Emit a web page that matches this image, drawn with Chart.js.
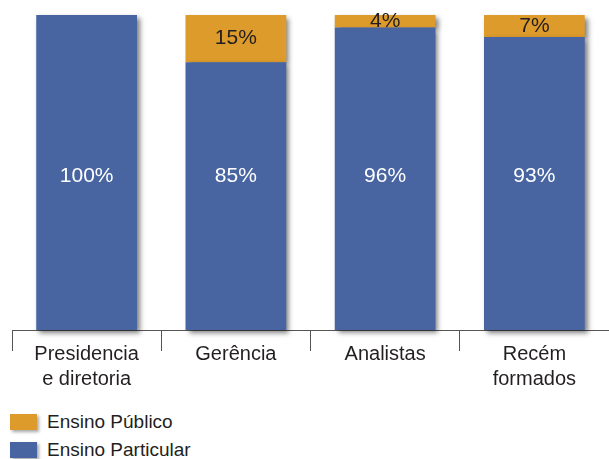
<!DOCTYPE html>
<html lang="pt">
<head>
<meta charset="utf-8">
<script src="https://cdn.jsdelivr.net/npm/chart.js@4/dist/chart.umd.min.js"></script>
<style>
    body { margin: 0; background: #fff; font-family: "Liberation Sans", Arial, sans-serif; }
    #wrap { position: relative; width: 609px; height: 459px; overflow: hidden; }
    #legend { position: absolute; left: 10px; top: 408px; }
    .item { display: flex; align-items: center; height: 28px; font-size: 19px; color: #231f20; }
    .box { width: 27px; height: 16px; margin-right: 10px; box-shadow: 2px 2px 3px rgba(0,0,0,0.35); }
</style>
</head>
<body>
<div id="wrap">
    <canvas id="escolaChart" width="609" height="400"></canvas>
    <div id="legend"></div>
</div>
<script>
// Dados
const cargos = [['Presidencia', 'e diretoria'], 'Gerência', 'Analistas', ['Recém', 'formados']];
const ensinoParticular = [100, 85, 96, 93];
const ensinoPublico = [0, 15, 4, 7];

const azul = '#4865a1';
const laranja = '#dc9b2b';
const texto = '#231f20';
const fonte = '"Liberation Sans", Arial, sans-serif';

// sombra por baixo das barras
const sombraBarras = {
    id: 'sombraBarras',
    beforeDatasetsDraw(chart) {
        const ctx = chart.ctx;
        ctx.save();
        ctx.shadowColor = 'rgba(0,0,0,0.5)';
        ctx.shadowOffsetX = 3;
        ctx.shadowOffsetY = 3;
        ctx.shadowBlur = 5;
    },
    afterDatasetsDraw(chart) {
        chart.ctx.restore();
    }
};

// percentuais escritos dentro das barras
const rotulos = {
    id: 'rotulos',
    afterDatasetsDraw(chart) {
        const ctx = chart.ctx;
        const y = chart.scales.y;
        ctx.save();
        ctx.font = '21px ' + fonte;
        ctx.textAlign = 'center';
        ctx.textBaseline = 'middle';
        chart.data.datasets.forEach((ds, i) => {
            const meta = chart.getDatasetMeta(i);
            meta.data.forEach((bar, j) => {
                const v = ds.data[j];
                if (!v) return;
                let py;
                if (i === 0) {
                    const total = ensinoParticular[j] + ensinoPublico[j];
                    py = y.getPixelForValue(total / 2) + 4;
                    ctx.fillStyle = '#fff';
                } else {
                    py = (bar.y + bar.base) / 2;
                    ctx.fillStyle = texto;
                }
                ctx.fillText(v + '%', bar.x, py);
            });
        });
        ctx.restore();
    }
};

const chart = new Chart(document.getElementById('escolaChart'), {
    type: 'bar',
    data: {
        labels: cargos,
        datasets: [
            {
                label: 'Ensino Particular',
                data: ensinoParticular,
                backgroundColor: azul,
                categoryPercentage: 1,
                barPercentage: 0.675,
                clip: false
            },
            {
                label: 'Ensino Público',
                data: ensinoPublico,
                backgroundColor: laranja,
                categoryPercentage: 1,
                barPercentage: 0.675,
                clip: false
            }
        ]
    },
    options: {
        responsive: false,
        animation: false,
        layout: { padding: { left: 12, top: 15, right: 0, bottom: 0 } },
        plugins: {
            legend: { display: false },
            tooltip: { enabled: false }
        },
        scales: {
            x: {
                stacked: true,
                grid: {
                    offset: true,
                    drawOnChartArea: false,
                    drawTicks: true,
                    tickLength: 21,
                    color: '#555'
                },
                border: { display: true, color: '#555', width: 1 },
                ticks: {
                    color: texto,
                    font: { family: fonte, size: 20, lineHeight: 1.25 },
                    padding: -9,
                    maxRotation: 0
                },
                afterFit(scale) { scale.height = 70; }
            },
            y: {
                stacked: true,
                display: false,
                min: 0,
                max: 100
            }
        }
    },
    plugins: [sombraBarras, rotulos]
});

// legenda (Público em cima)
const legend = document.getElementById('legend');
[...chart.data.datasets].reverse().forEach(ds => {
    const item = document.createElement('div');
    item.className = 'item';
    item.innerHTML = `<span class="box" style="background:${ds.backgroundColor}"></span><span>${ds.label}</span>`;
    legend.appendChild(item);
});
</script>
</body>
</html>
